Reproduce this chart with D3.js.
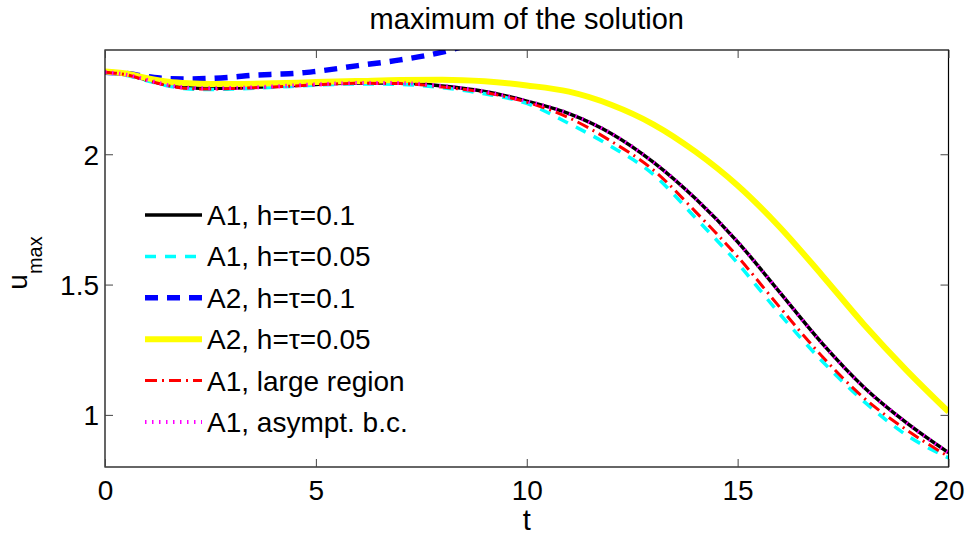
<!DOCTYPE html>
<html><head><meta charset="utf-8">
<script src="https://cdn.jsdelivr.net/npm/d3@7"></script>
<style>body{margin:0;background:#fff}svg{display:block}text{font-family:"Liberation Sans",Arial,sans-serif;fill:#000}</style>
</head><body><svg id="c" width="967" height="537"></svg>
<script>
// ---- data ----
const tA = [0,0.5,1,1.5,2,2.5,3,4,5,6,7,8,9,10,11,12,13,14,15,16,17,18,19,20];
const a1h01   = [2.315,2.305,2.285,2.265,2.255,2.253,2.254,2.26,2.268,2.273,2.273,2.262,2.241,2.204,2.156,2.08,1.97,1.83,1.664,1.47,1.275,1.105,0.97,0.855];
const a1h005  = [2.315,2.303,2.282,2.262,2.25,2.248,2.25,2.257,2.265,2.27,2.268,2.255,2.232,2.195,2.118,2.03,1.923,1.756,1.582,1.387,1.207,1.051,0.923,0.835];
const a2h005  = [2.318,2.31,2.292,2.278,2.272,2.27,2.27,2.272,2.277,2.281,2.285,2.286,2.28,2.264,2.24,2.19,2.115,2.01,1.88,1.72,1.536,1.346,1.172,1.012];
const a1large = [2.315,2.305,2.283,2.263,2.252,2.25,2.252,2.258,2.266,2.272,2.271,2.258,2.237,2.2,2.14,2.05,1.94,1.78,1.607,1.413,1.225,1.064,0.943,0.84];
const a1asym  = [2.315,2.305,2.285,2.265,2.255,2.253,2.254,2.26,2.268,2.273,2.273,2.262,2.241,2.204,2.156,2.08,1.97,1.83,1.664,1.47,1.275,1.105,0.97,0.855];
const tB = [0,0.5,1,1.5,2,2.5,3,3.5,4,4.5,5,6,7,8,9];
const a2h01   = [2.315,2.31,2.298,2.29,2.289,2.291,2.296,2.303,2.307,2.31,2.318,2.34,2.362,2.392,2.44];
const xTicks = [0,5,10,15,20];
const yTicks = [1,1.5,2];
const labels = ["A1, h=\u03c4=0.1","A1, h=\u03c4=0.05","A2, h=\u03c4=0.1","A2, h=\u03c4=0.05","A1, large region","A1, asympt. b.c."];
const titleText = "maximum of the solution";

const series = [
  {t:tA, v:a1h01,   color:"#000000", w:3.5, dash:null},
  {t:tA, v:a1h005,  color:"#00ffff", w:3.5, dash:"11,9"},
  {t:tB, v:a2h01,   color:"#0000ff", w:5.5, dash:"13,9"},
  {t:tA, v:a2h005,  color:"#ffff00", w:6,   dash:null},
  {t:tA, v:a1large, color:"#ff0000", w:3,   dash:"12,5,2,5"},
  {t:tA, v:a1asym,  color:"#ff00ff", w:4,   dash:"1.5,5.5"}
];

const L=105, R=948.5, T=50, B=467;
const svg = d3.select("#c");
const x = d3.scaleLinear().domain([0,20]).range([L,R]);
const y = d3.scaleLinear().domain([0.8,2.4]).range([B,T]);

svg.append("defs").append("clipPath").attr("id","clip")
  .append("rect").attr("x",L).attr("y",T).attr("width",R-L).attr("height",B-T);

const line = d3.line().curve(d3.curveMonotoneX);
const g = svg.append("g").attr("clip-path","url(#clip)");
series.forEach(s=>{
  const pts = s.t.map((t,i)=>[x(t), y(s.v[i])]);
  g.append("path").attr("d", line(pts)).attr("fill","none")
   .attr("stroke",s.color).attr("stroke-width",s.w)
   .attr("stroke-dasharray",s.dash).attr("stroke-linejoin","round");
});

// axes box
svg.append("rect").attr("x",L).attr("y",T).attr("width",R-L).attr("height",B-T)
  .attr("fill","none").attr("stroke","#000").attr("stroke-width",1.2);

const tl = 8;
const axB = d3.axisBottom(x).tickValues(xTicks).tickSize(-tl).tickFormat(d3.format("d"));
const axT = d3.axisTop(x).tickValues(xTicks).tickSize(-tl).tickFormat("");
const axL = d3.axisLeft(y).tickValues(yTicks).tickSize(-tl).tickFormat(d=>String(d));
const axR = d3.axisRight(y).tickValues(yTicks).tickSize(-tl).tickFormat("");
function style(sel){ sel.select(".domain").remove(); sel.selectAll(".tick line").attr("stroke","#444").attr("stroke-width",1); }
svg.append("g").attr("transform",`translate(0,${B})`).call(axB).call(style)
  .selectAll("text").attr("font-size",28).attr("y",null).attr("dy",null).attr("transform","translate(0,33)").attr("font-family","Liberation Sans, Arial");
svg.append("g").attr("transform",`translate(0,${T})`).call(axT).call(style);
svg.append("g").attr("transform",`translate(${L},0)`).call(axL).call(style)
  .selectAll("text").attr("font-size",28).attr("x",-6).attr("dy","0.36em").attr("font-family","Liberation Sans, Arial");
svg.append("g").attr("transform",`translate(${R},0)`).call(axR).call(style);

// title & labels
svg.append("text").attr("x",(L+R)/2).attr("y",29).attr("text-anchor","middle").attr("font-size",29).text(titleText);
svg.append("text").attr("x",(L+R)/2).attr("y",530).attr("text-anchor","middle").attr("font-size",29).text("t");
const yl = svg.append("text").attr("transform","translate(27,263) rotate(-90)").attr("text-anchor","middle");
yl.append("tspan").attr("font-size",28).text("u");
yl.append("tspan").attr("font-size",20).attr("dy",15).text("max");

// legend
const lg = svg.append("g");
labels.forEach((lab,i)=>{
  const s = series[i], yy = 215 + i*41.4;
  lg.append("line").attr("x1",145).attr("x2",202).attr("y1",yy).attr("y2",yy)
    .attr("stroke",s.color).attr("stroke-width",s.w).attr("stroke-dasharray",s.dash);
  lg.append("text").attr("x",207).attr("y",yy).attr("dy","0.36em").attr("font-size",28).text(lab);
});
</script></body></html>
